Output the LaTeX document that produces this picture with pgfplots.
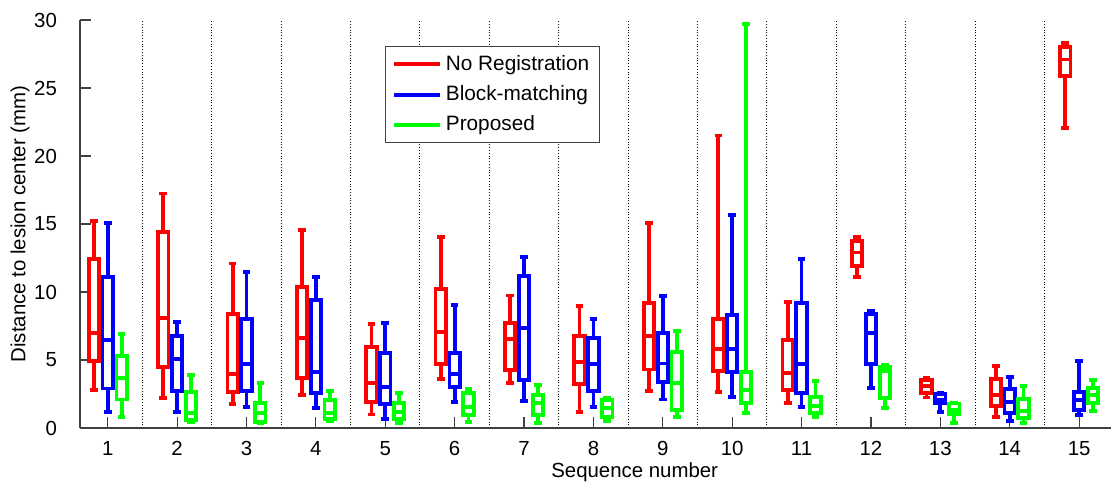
\documentclass[border=0pt]{standalone}
\usepackage{fontspec}
\setmainfont{Liberation Sans}
\usepackage{pgfplots}
\pgfplotsset{compat=1.18}
\usepgfplotslibrary{statistics}
\newcommand{\bx}[7]{\addplot[#1, solid, line width=1.9pt, forget plot, boxplot prepared={draw direction=y, draw position=#2, lower whisker=#3, lower quartile=#4, median=#5, upper quartile=#6, upper whisker=#7, box extend=0.15, whisker extend=0.11}] coordinates {};}
\begin{document}
\begin{tikzpicture}
\begin{axis}[
  scale only axis,
  width=515.5pt, height=204pt,
  xmin=0.6, xmax=15.46, ymin=0, ymax=30,
  axis x line=bottom, axis y line=left,
  axis line style={-, draw=black!75, line width=0.6pt},
  xtick={1,...,15}, ytick={0,5,...,30},
  minor xtick={1.5,2.5,...,14.5},
  xminorgrids, minor grid style={black, densely dotted, line width=0.5pt},
  minor tick length=0pt,
  major tick length=5.5pt,
  tick align=inside,
  tick style={draw=black!75, line width=0.6pt},
  font=\fontsize{10.2}{12}\selectfont,
  /pgf/number format/assume math mode=true,
  ticklabel style={font=\fontsize{10.2}{12}\selectfont},
  yticklabel style={xshift=-8pt},
  xticklabel style={yshift=-3pt},
  xlabel={Sequence number},
  ylabel={Distance to lesion center (mm)},
  xlabel style={at={(axis description cs:0.538,0)}, anchor=north, yshift=-14pt},
  ylabel style={at={(axis description cs:-0.0582,0.5)}, anchor=center},
  legend cell align=left,
  legend image code/.code={\draw[#1, line width=2pt] (0pt,0pt) -- (23pt,0pt);},
  legend style={at={(axis cs:5.0,28.1)}, anchor=north west, draw=black!75, line width=0.6pt, font=\fontsize{10.4}{12}\selectfont, row sep=2pt, inner xsep=3pt, inner ysep=2.5pt},
  clip=false,
]
% Sequence 1
\bx{red}{0.8}{2.8}{4.95}{6.96}{12.4}{15.2}
\bx{blue}{1.0}{1.18}{2.9}{6.47}{11.1}{15.1}
\bx{green}{1.2}{0.78}{2.1}{3.7}{5.3}{6.9}
% Sequence 2
\bx{red}{1.8}{2.2}{4.5}{8.06}{14.4}{17.25}
\bx{blue}{2.0}{1.2}{2.75}{5.07}{6.76}{7.8}
\bx{green}{2.2}{0.42}{0.6}{1.08}{2.62}{3.92}
% Sequence 3
\bx{red}{2.8}{1.74}{2.67}{4.0}{8.38}{12.1}
\bx{blue}{3.0}{1.57}{2.75}{4.7}{8.0}{11.45}
\bx{green}{3.2}{0.35}{0.47}{1.13}{1.86}{3.28}
% Sequence 4
\bx{red}{3.8}{2.43}{3.7}{6.64}{10.34}{14.56}
\bx{blue}{4.0}{1.45}{2.6}{4.14}{9.4}{11.1}
\bx{green}{4.2}{0.51}{0.64}{1.08}{2.06}{2.74}
% Sequence 5
\bx{red}{4.8}{1.0}{1.94}{3.28}{5.98}{7.65}
\bx{blue}{5.0}{0.69}{1.74}{2.99}{5.54}{7.75}
\bx{green}{5.2}{0.39}{0.64}{1.2}{1.81}{2.55}
% Sequence 6
\bx{red}{5.8}{3.58}{4.7}{7.03}{10.2}{14.07}
\bx{blue}{6.0}{1.94}{2.99}{3.97}{5.54}{9.04}
\bx{green}{6.2}{0.44}{0.96}{1.57}{2.55}{2.84}
% Sequence 7
\bx{red}{6.8}{3.33}{4.26}{6.52}{7.75}{9.75}
\bx{blue}{7.0}{1.99}{3.53}{7.38}{11.18}{12.6}
\bx{green}{7.2}{0.35}{0.96}{1.81}{2.43}{3.14}
% Sequence 8
\bx{red}{7.8}{1.15}{3.24}{4.88}{6.76}{8.97}
\bx{blue}{8.0}{1.57}{2.75}{4.7}{6.64}{7.99}
\bx{green}{8.2}{0.49}{0.83}{1.5}{2.05}{2.2}
% Sequence 9
\bx{red}{8.8}{2.72}{4.3}{6.76}{9.2}{15.1}
\bx{blue}{9.0}{2.1}{3.4}{4.75}{7.0}{9.7}
\bx{green}{9.2}{0.83}{1.32}{3.28}{5.6}{7.13}
% Sequence 10
\bx{red}{9.8}{2.67}{4.2}{5.78}{8.0}{21.5}
\bx{blue}{10.0}{2.3}{4.14}{5.78}{8.28}{15.66}
\bx{green}{10.2}{1.08}{1.81}{2.8}{4.14}{29.7}
% Sequence 11
\bx{red}{10.8}{1.86}{2.8}{4.07}{6.47}{9.29}
\bx{blue}{11.0}{1.52}{2.55}{4.7}{9.2}{12.4}
\bx{green}{11.2}{0.78}{1.08}{1.6}{2.3}{3.48}
% Sequence 12
\bx{red}{11.8}{11.08}{11.9}{12.9}{13.77}{14.07}
\bx{blue}{12.0}{2.92}{4.68}{7.0}{8.38}{8.63}
\bx{green}{12.2}{1.45}{2.18}{4.2}{4.5}{4.65}
% Sequence 13
\bx{red}{12.8}{2.25}{2.6}{3.1}{3.55}{3.7}
\bx{blue}{13.0}{1.2}{1.81}{2.06}{2.48}{2.55}
\bx{green}{13.2}{0.39}{1.03}{1.32}{1.8}{1.86}
% Sequence 14
\bx{red}{13.8}{0.79}{1.62}{2.45}{3.58}{4.56}
\bx{blue}{14.0}{0.51}{1.08}{1.94}{2.89}{3.73}
\bx{green}{14.2}{0.39}{0.71}{1.27}{2.11}{3.09}
% Sequence 15
\bx{red}{14.8}{22.03}{25.88}{27.1}{28.04}{28.28}
\bx{blue}{15.0}{0.96}{1.32}{2.06}{2.62}{4.95}
\bx{green}{15.2}{1.27}{1.81}{2.43}{2.92}{3.53}
\addlegendimage{red}
\addlegendimage{blue}
\addlegendimage{green}
\legend{No Registration, Block-matching, Proposed}
\end{axis}
\pgfresetboundingbox
\path ([shift={(-40pt,-26.5pt)}]current axis.south west) rectangle ([shift={(0pt,10pt)}]current axis.north east);
\end{tikzpicture}
\end{document}
